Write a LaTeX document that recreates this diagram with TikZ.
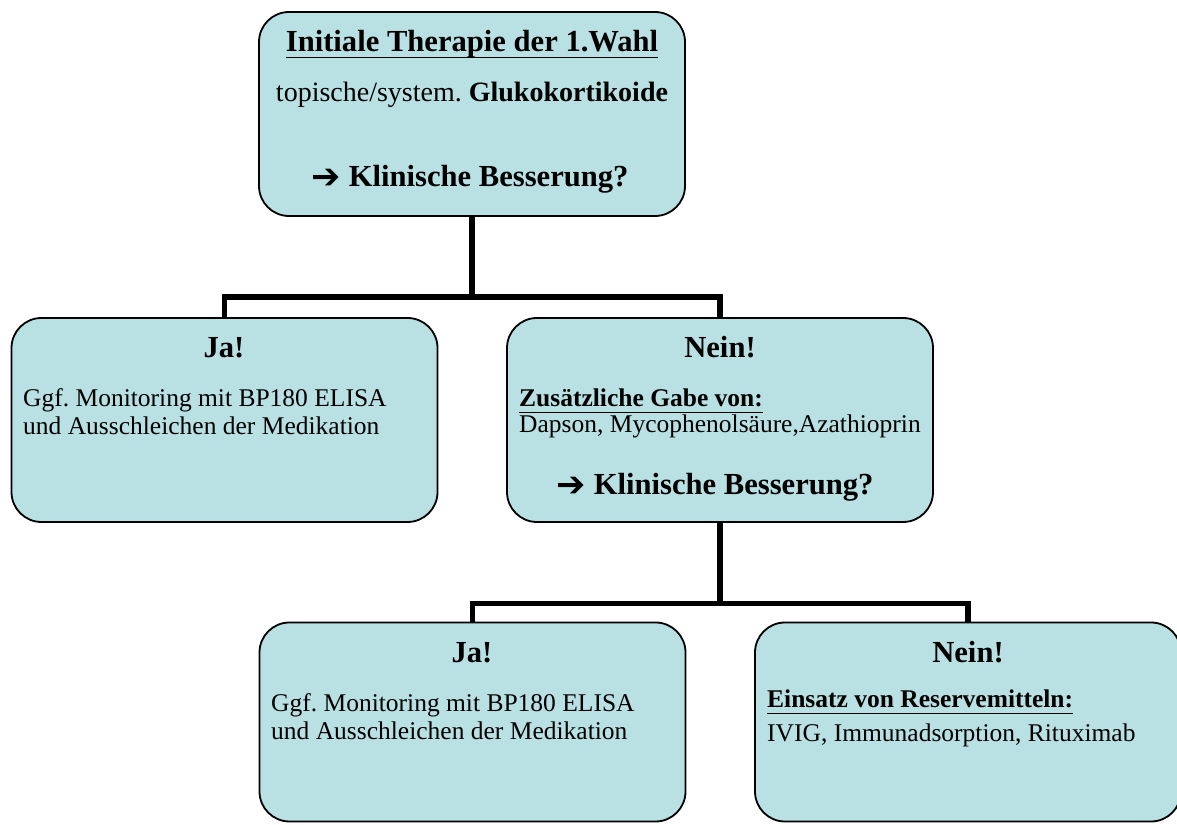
\documentclass[tikz,border=0pt]{standalone}
\usepackage{fontspec}
\setmainfont{Liberation Serif}
\newfontfamily\arrfont{DejaVu Sans}
\usetikzlibrary{positioning}
\definecolor{tq}{HTML}{B9E0E3}
\frenchspacing
\def\ul#1{\leavevmode\setbox0\hbox{#1}\rlap{\vrule width\wd0 height -4.6pt depth 6.4pt}\box0}
\def\hd#1{{\fontsize{30.6}{33}\selectfont\bfseries #1}}
\def\bd#1{{\fontsize{25.5}{28}\selectfont #1}}
\def\arr{\raisebox{-2pt}{\arrfont\fontsize{35}{35}\selectfont ➔}\hspace{8pt}}

\begin{document}
\begin{tikzpicture}[x=1pt,y=1pt,
    box/.style={draw=black,line width=1.8pt,fill=tq,rounded corners=30pt,
      minimum width=426pt,minimum height=204pt,inner sep=0pt},
    conn/.style={line width=5.5pt},
    txt/.style={anchor=base,inner sep=0pt},
    lft/.style={anchor=base west,inner sep=0pt}]
  \useasboundingbox (0,0) rectangle (1177,824);
  \node[box] (top) at (472,710) {};
  \node[box] (ja1) at (224.5,404) {};
  \node[box] (nein1) at (720,404) {};
  \node[box,minimum height=199pt] (ja2) at (472.5,102) {};
  \node[box,minimum height=199pt] (nein2) at (968,102) {};
  \coordinate (s1) at (472,527);
  \coordinate (s2) at (720,220.5);
  \draw[conn] (top.south) -- (s1);
  \draw[conn] (ja1.north) |- (s1) -| (nein1.north);
  \draw[conn] (nein1.south) -- (s2);
  \draw[conn] (ja2.north) |- (s2) -| (nein2.north);
  \node[txt] (t1) at (472,772) {\hd{\ul{Initiale Therapie der 1.Wahl}}};
  \node[txt] (t2) at (472,722) {\fontsize{28}{30}\selectfont topische/system. \textbf{Glukokortikoide}};
  \node[txt] (t3) at (470,637) {\hd{\arr Klinische Besserung?}};
  \node[txt] (j1) at (224,466) {\hd{Ja!}};
  \node[lft] (j1a) at (23,417) {\bd{Ggf. Monitoring mit BP180 ELISA}};
  \node[lft] (j1b) at (23,389) {\bd{und Ausschleichen der Medikation}};
  \node[txt] (n1) at (720,466) {\hd{Nein!}};
  \node[lft] (n1a) at (519,417) {\bd{\bfseries\ul{Zusätzliche Gabe von:}}};
  \node[lft] (n1b) at (519,391) {\bd{Dapson, Mycophenolsäure,Azathioprin}};
  \node[txt] (n1c) at (715,329) {\hd{\arr Klinische Besserung?}};
  \node[txt] (j2) at (472,161) {\hd{Ja!}};
  \node[lft] (j2a) at (271,112) {\bd{Ggf. Monitoring mit BP180 ELISA}};
  \node[lft] (j2b) at (271,84) {\bd{und Ausschleichen der Medikation}};
  \node[txt] (n2) at (968,161) {\hd{Nein!}};
  \node[lft] (n2a) at (767,116) {\bd{\bfseries\ul{Einsatz von Reservemitteln:}}};
  \node[lft] (n2b) at (767,82) {\bd{IVIG, Immunadsorption, Rituximab}};
\end{tikzpicture}
\end{document}
